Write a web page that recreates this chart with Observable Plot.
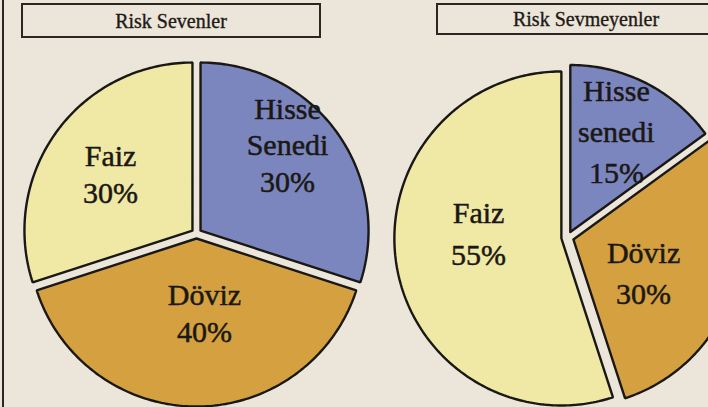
<!DOCTYPE html>
<html><head><meta charset="utf-8">
<script src="https://cdn.jsdelivr.net/npm/d3@7"></script>
<script src="https://cdn.jsdelivr.net/npm/@observablehq/plot@0.6"></script>
<style>
html,body{margin:0;padding:0;background:#ebe6d9;overflow:hidden;}
#wrap{position:relative;width:708px;height:407px;overflow:hidden;background:#ebe6d9;}
#edge{position:absolute;left:2px;top:0;width:2px;height:407px;background:#2a2622;z-index:2}
.head{position:relative;height:44px;}
.tbox{position:absolute;top:3px;border:2px solid #2b2723;font-family:"Liberation Serif",serif;font-size:20px;color:#1e1a16;-webkit-text-stroke:0.35px #1e1a16;text-align:center;width:296px;}
#t0{left:21px;height:31px;line-height:33px;}
#t1{left:436px;height:28px;line-height:29px;}
#chart svg{display:block}
</style></head>
<body><div id="wrap"><div id="edge"></div><div class="head"><div class="tbox" id="t0"></div><div class="tbox" id="t1"></div></div><div id="chart"></div></div>
<script>
// ---- data ----
const groups = ["Risk Sevenler", "Risk Sevmeyenler"];
const categories = ["Hisse Senedi", "Döviz", "Faiz"];
const riskSevenler = [30, 40, 30];
const riskSevmeyenler = [15, 30, 55];
const namesSevenler = ["Hisse\nSenedi", "Döviz", "Faiz"];
const namesSevmeyenler = ["Hisse\nsenedi", "Döviz", "Faiz"];

// ---- style / layout ----
const sliceColors = ["#7b85be", "#d4a040", "#f0e9a5"];
const pies = [
  {cx: 196, cy: 233, r: 168, explode: 5, lineHeight: 1.22,
   labelPolar: [[46.7, 0.744], [174.5, 0.493], [303.4, 0.613]]},
  {cx: 567, cy: 237, r: 167, explode: 6.2, lineHeight: 1.37,
   labelPolar: [[25.1, 0.69], [115.6, 0.505], [271.7, 0.533]]}
];
const seriesValues = [riskSevenler, riskSevmeyenler];
const seriesNames = [namesSevenler, namesSevmeyenler];

document.getElementById("t0").textContent = groups[0];
document.getElementById("t1").textContent = groups[1];

const rad = Math.PI / 180;
const slicePts = [];
const labels = [];
pies.forEach((p, pi) => {
  const vals = seriesValues[pi];
  const total = d3.sum(vals);
  let a0 = 0;
  vals.forEach((v, i) => {
    const a1 = a0 + v / total * 360;
    const mid = (a0 + a1) / 2 * rad;
    const ox = p.cx + p.explode * Math.sin(mid), oy = p.cy - p.explode * Math.cos(mid);
    const key = pi + "-" + i;
    slicePts.push({key, x: ox, y: oy, fill: sliceColors[i]});
    const n = Math.max(2, Math.ceil(a1 - a0));
    for (let k = 0; k <= n; k++) {
      const a = (a0 + (a1 - a0) * k / n) * rad;
      slicePts.push({key, x: ox + p.r * Math.sin(a), y: oy - p.r * Math.cos(a), fill: sliceColors[i]});
    }
    slicePts.push({key, x: ox, y: oy, fill: sliceColors[i]});
    const [la, lf] = p.labelPolar[i];
    labels.push({pie: pi, x: p.cx + lf * p.r * Math.sin(la * rad), y: p.cy - lf * p.r * Math.cos(la * rad),
      text: seriesNames[pi][i] + "\n" + v + "%"});
    a0 = a1;
  });
});

const textOpts = (pi) => ({x: "x", y: "y", text: "text", fontSize: 30, fontFamily: "Liberation Serif",
  fill: "#1b1814", stroke: "#1b1814", strokeWidth: 0.5, textAnchor: "middle", dy: -4,
  lineHeight: pies[pi].lineHeight});

const chart = Plot.plot({
  width: 708, height: 363, margin: 0,
  x: {domain: [0, 708], axis: null},
  y: {domain: [407, 44], axis: null},
  color: {type: "identity"},
  style: {background: "transparent", overflow: "hidden"},
  marks: [
    Plot.line(slicePts, {x: "x", y: "y", z: "key", fill: "fill", stroke: "#1a1815", strokeWidth: 2.4, strokeLinejoin: "miter", curve: "linear"}),
    Plot.text(labels.filter(d => d.pie === 0), textOpts(0)),
    Plot.text(labels.filter(d => d.pie === 1), textOpts(1))
  ]
});
document.getElementById("chart").appendChild(chart);
</script>
</body></html>
